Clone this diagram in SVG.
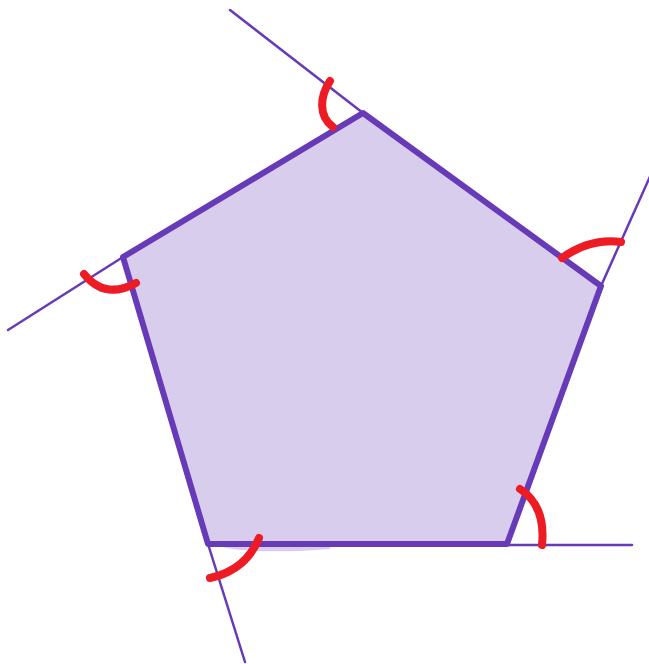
<svg xmlns="http://www.w3.org/2000/svg" width="649" height="664" viewBox="0 0 649 664">
<style>
.ext{stroke:#673ab7;stroke-width:2.5;fill:none;stroke-linecap:round}
.edge{stroke:#673ab7;stroke-width:6;fill:none;stroke-linejoin:round;stroke-linecap:round}
.arc{stroke:#ed1c24;stroke-width:8;fill:none;stroke-linecap:round}
</style>
<rect width="649" height="664" fill="#ffffff"/>
<g id="fill">
<polygon points="363,113 601,286 507,544 208,544 123,257" fill="#d9cdee"/>
<path d="M215,544 Q230,553 300,551 L330,549 L330,544 Z" fill="#d9cdee"/>
</g>
<g id="extensions">
<line class="ext" x1="363" y1="113" x2="230" y2="10"/>
<line class="ext" x1="601" y1="286" x2="652" y2="172"/>
<line class="ext" x1="507" y1="545" x2="632" y2="545"/>
<line class="ext" x1="208" y1="544" x2="245" y2="662"/>
<line class="ext" x1="123" y1="257" x2="8" y2="330"/>
</g>
<g id="pentagon">
<polygon class="edge" points="363,113 601,286 507,544 208,544 123,257"/>
</g>
<g id="angles">
<path class="arc" d="M330,81 C320,96 318,116 333,127"/>
<path class="arc" d="M562,258 Q590,238 621,242"/>
<path class="arc" d="M520,489 Q546,506 542,545"/>
<path class="arc" d="M259,538 Q246,570 210,578"/>
<path class="arc" d="M84,274 Q105,300 136,283"/>
</g>
</svg>
